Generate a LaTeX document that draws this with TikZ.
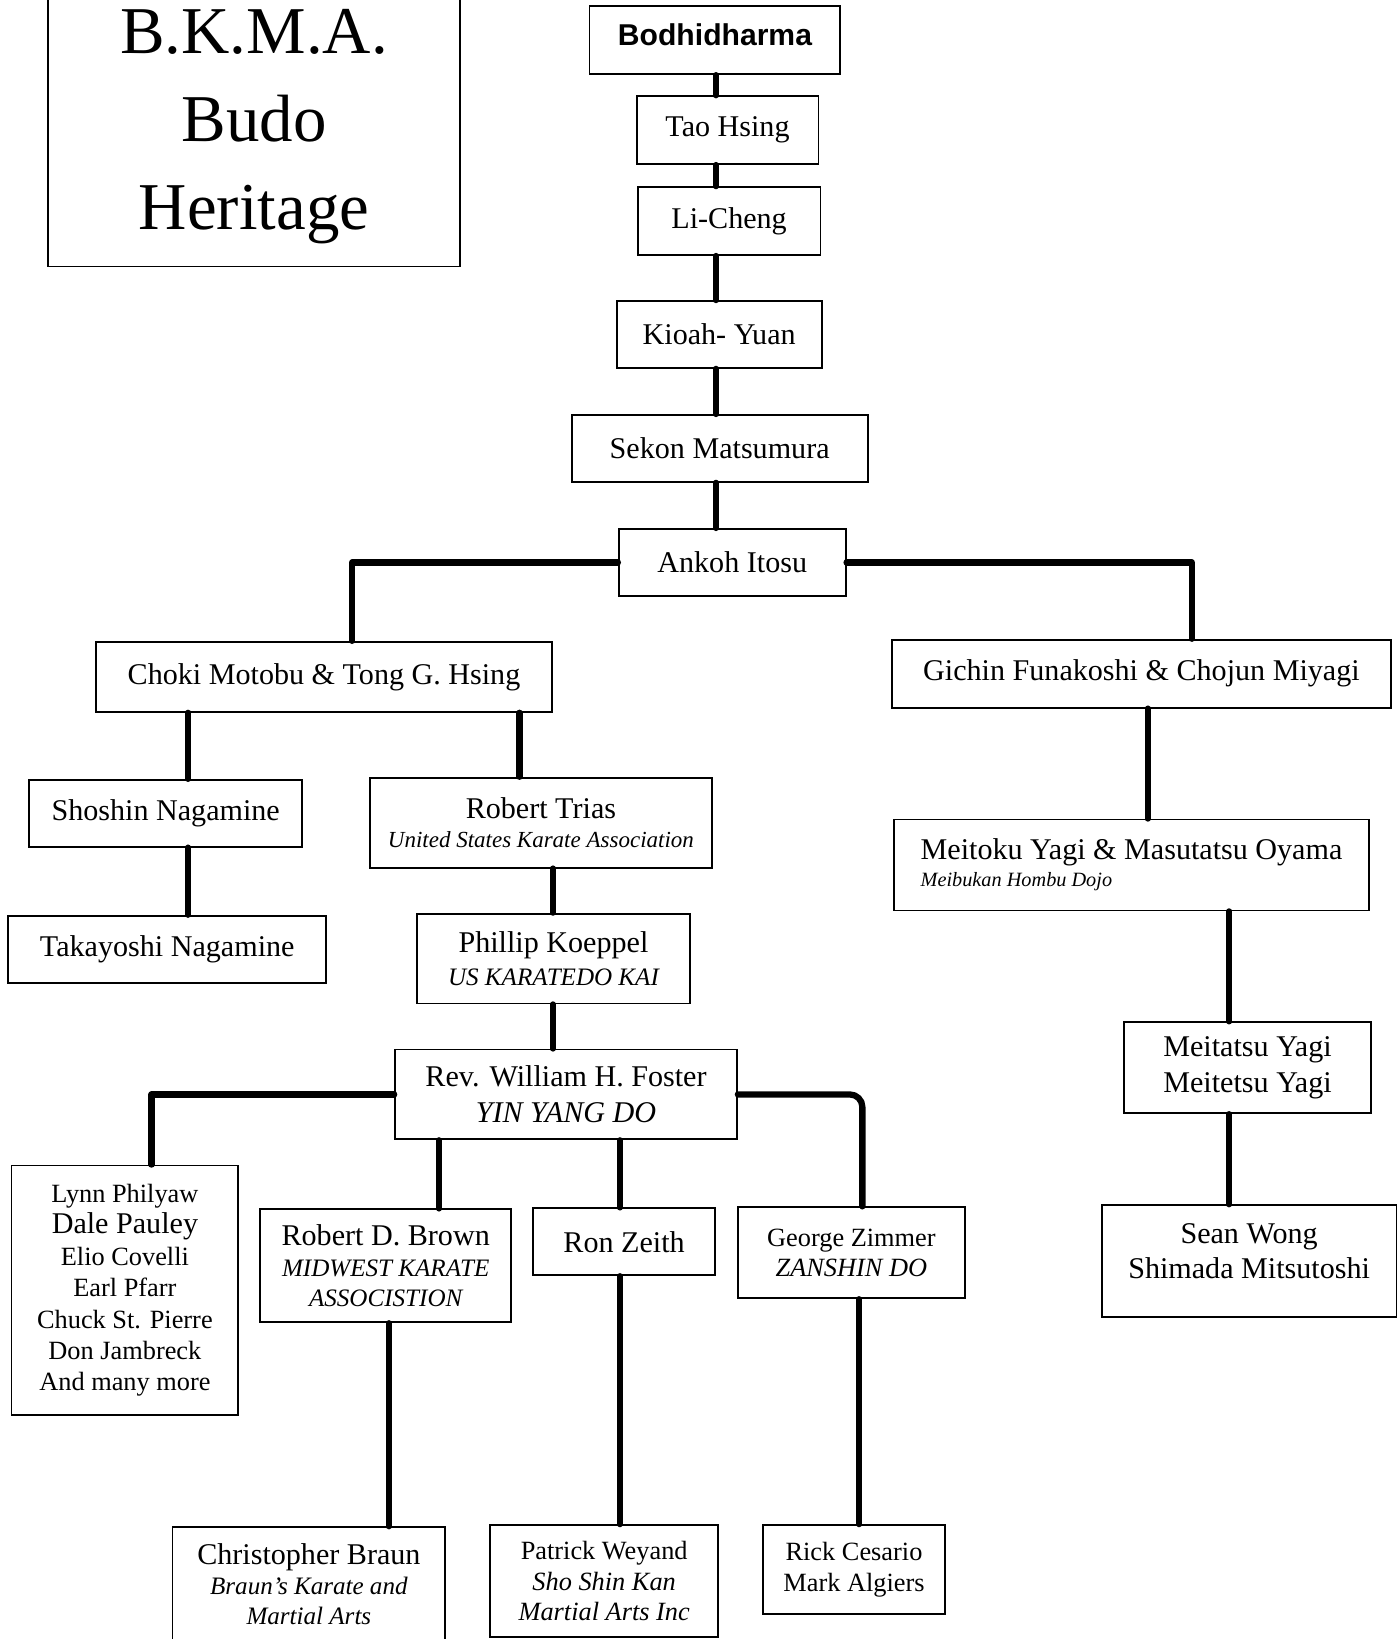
\documentclass[tikz,border=0pt]{standalone}
\usepackage{fontspec}
\setmainfont{Liberation Serif}
\newfontfamily\headsans{Liberation Sans}
\newcommand{\namefont}[1][16.5]{\fontsize{14.4}{#1}\selectfont}
\newcommand{\orgfont}[1]{\fontsize{#1}{15}\selectfont\itshape}
\tikzset{
  person/.style={draw, line width=0.9pt, inner sep=0pt, align=center, font=\namefont},
  lineage/.style={line width=3pt, line cap=round, line join=round},
}

\begin{document}
\begin{tikzpicture}[x=0.5pt, y=-0.5pt]
  \useasboundingbox (0,0) rectangle (1339,1568);
  % Title
  \node[draw, line width=0.9pt, minimum width=197pt, minimum height=134pt, align=center, font=\fontsize{32}{42}\selectfont] (title) at (243,121) {B.K.M.A.\\Budo\\Heritage};
  % Main line
  \node[person, minimum width=120pt, minimum height=32.5pt, text depth=5pt, font=\headsans\bfseries\fontsize{14.4}{16}\selectfont] (bodhi) at (684,38.5) {Bodhidharma};
  \node[person, minimum width=87pt, minimum height=32.5pt] (tao) at (696,124.5) {Tao Hsing};
  \node[person, minimum width=87.5pt, minimum height=32.5pt] (li) at (697.5,211.5) {Li-Cheng};
  \node[person, minimum width=98pt, minimum height=32pt] (kioah) at (688,320) {Kioah- Yuan};
  \node[person, minimum width=141.5pt, minimum height=32pt] (sekon) at (688.5,429) {Sekon Matsumura};
  \node[person, minimum width=108.5pt, minimum height=32pt] (ankoh) at (700.5,538) {Ankoh Itosu};
  % Two branches
  \node[person, minimum width=218pt, minimum height=33.5pt] (choki) at (310,647.5) {Choki Motobu \& Tong G. Hsing};
  \node[person, minimum width=239pt, minimum height=32.5pt] (gichin) at (1092,644.5) {Gichin Funakoshi \& Chojun Miyagi};
  % Left branch
  \node[person, minimum width=130.5pt, minimum height=32pt] (shoshin) at (158.5,778) {Shoshin Nagamine};
  \node[person, minimum width=152pt, minimum height=32pt] (takayoshi) at (160,908) {Takayoshi Nagamine};
  \node[person, minimum width=163.5pt, minimum height=43pt, font={\namefont[14]}] (trias) at (517.5,787) {Robert Trias\\\orgfont{11}United States Karate Association};
  \node[person, minimum width=130.5pt, minimum height=43pt, font={\namefont[15.5]}] (koeppel) at (529.5,917) {Phillip Koeppel\\\orgfont{12}US KARATEDO KAI};
  \node[person, minimum width=163.5pt, minimum height=43pt, font={\namefont[17]}] (foster) at (541.5,1047) {Rev. William H. Foster\\\itshape YIN YANG DO};
  % Right branch
  \node[person, align=left, minimum width=227.5pt, minimum height=43.5pt, font={\namefont[13]}] (meitoku) at (1082.5,827.5) {Meitoku Yagi \& Masutatsu Oyama\\\orgfont{9.7}Meibukan Hombu Dojo};
  \node[person, minimum width=118.5pt, minimum height=43.5pt, font={\namefont[17]}] (meitatsu) at (1193.5,1021.5) {Meitatsu Yagi\\Meitetsu Yagi};
  \node[person, minimum width=141pt, minimum height=53.5pt] (sean) at (1195,1206.5) {Sean Wong\\Shimada Mitsutoshi\\[-7pt]\mbox{}};
  % Foster's students
  \node[person, minimum width=108.5pt, minimum height=119.5pt, font=\fontsize{12.6}{15}\selectfont] (lynn) at (119.5,1234.5) {Lynn Philyaw\\\namefont Dale Pauley\\Elio Covelli\\Earl Pfarr\\Chuck St. Pierre\\Don Jambreck\\And many more};
  \node[person, minimum width=120pt, minimum height=54pt, font={\namefont[14.5]}] (brown) at (369,1211) {Robert D. Brown\\\orgfont{12}MIDWEST KARATE\\\orgfont{12}ASSOCISTION};
  \node[person, minimum width=87pt, minimum height=32pt] (zeith) at (597,1188) {Ron Zeith};
  \node[person, minimum width=108.5pt, minimum height=43.5pt, font=\fontsize{12.6}{14.5}\selectfont] (zimmer) at (814.5,1198.5) {George Zimmer\\\itshape ZANSHIN DO};
  % Bottom row
  \node[person, minimum width=130.5pt, minimum height=54.5pt, font={\namefont[14.5]}] (braun) at (295.5,1515.5) {Christopher Braun\\\orgfont{12}Braun's Karate and\\\orgfont{12}Martial Arts};
  \node[person, minimum width=109pt, minimum height=53.5pt, font=\fontsize{12.6}{14.5}\selectfont] (weyand) at (578,1512.5) {Patrick Weyand\\\itshape Sho Shin Kan\\\itshape Martial Arts Inc};
  \node[person, minimum width=87pt, minimum height=42.5pt, font=\fontsize{12.6}{15}\selectfont] (cesario) at (817,1501.5) {Rick Cesario\\Mark Algiers};
  % Connectors down the main line
  \coordinate (spine) at (685,0);
  \draw[lineage] (spine |- bodhi.south) -- (spine |- tao.north);
  \draw[lineage] (spine |- tao.south) -- (spine |- li.north);
  \draw[lineage] (spine |- li.south) -- (spine |- kioah.north);
  \draw[lineage] (spine |- kioah.south) -- (spine |- sekon.north);
  \draw[lineage] (spine |- sekon.south) -- (spine |- ankoh.north);
  % Split at Itosu
  \coordinate (leftdrop) at (337,0);
  \coordinate (rightdrop) at (1140,0);
  \draw[lineage] (ankoh.west) -| (leftdrop |- choki.north);
  \draw[lineage] (ankoh.east) -| (rightdrop |- gichin.north);
  % Left branch
  \coordinate (nagadrop) at (180,0);
  \coordinate (triasdrop) at (497,0);
  \coordinate (koeppeldrop) at (529,0);
  \draw[lineage] (nagadrop |- choki.south) -- (nagadrop |- shoshin.north);
  \draw[lineage] (nagadrop |- shoshin.south) -- (nagadrop |- takayoshi.north);
  \draw[lineage] (triasdrop |- choki.south) -- (triasdrop |- trias.north);
  \draw[lineage] (koeppeldrop |- trias.south) -- (koeppeldrop |- koeppel.north);
  \draw[lineage] (koeppeldrop |- koeppel.south) -- (koeppeldrop |- foster.north);
  % Right branch
  \coordinate (gichindrop) at (1098,0);
  \coordinate (yagidrop) at (1176,0);
  \draw[lineage] (gichindrop |- gichin.south) -- (gichindrop |- meitoku.north);
  \draw[lineage] (yagidrop |- meitoku.south) -- (yagidrop |- meitatsu.north);
  \draw[lineage] (yagidrop |- meitatsu.south) -- (yagidrop |- sean.north);
  % Foster's students
  \coordinate (lynndrop) at (145,0);
  \coordinate (browndrop) at (420,0);
  \coordinate (zeithdrop) at (593,0);
  \coordinate (zimmerdrop) at (825,0);
  \draw[lineage] (foster.west) -| (lynndrop |- lynn.north);
  \draw[lineage] (browndrop |- foster.south) -- (browndrop |- brown.north);
  \draw[lineage] (zeithdrop |- foster.south) -- (zeithdrop |- zeith.north);
  \draw[lineage, rounded corners=6pt] (foster.east) -| (zimmerdrop |- zimmer.north);
  % Bottom row
  \coordinate (braundrop) at (372,0);
  \coordinate (cesariodrop) at (822,0);
  \draw[lineage] (braundrop |- brown.south) -- (braundrop |- braun.north);
  \draw[lineage] (zeithdrop |- zeith.south) -- (zeithdrop |- weyand.north);
  \draw[lineage] (cesariodrop |- zimmer.south) -- (cesariodrop |- cesario.north);
\end{tikzpicture}
\end{document}
